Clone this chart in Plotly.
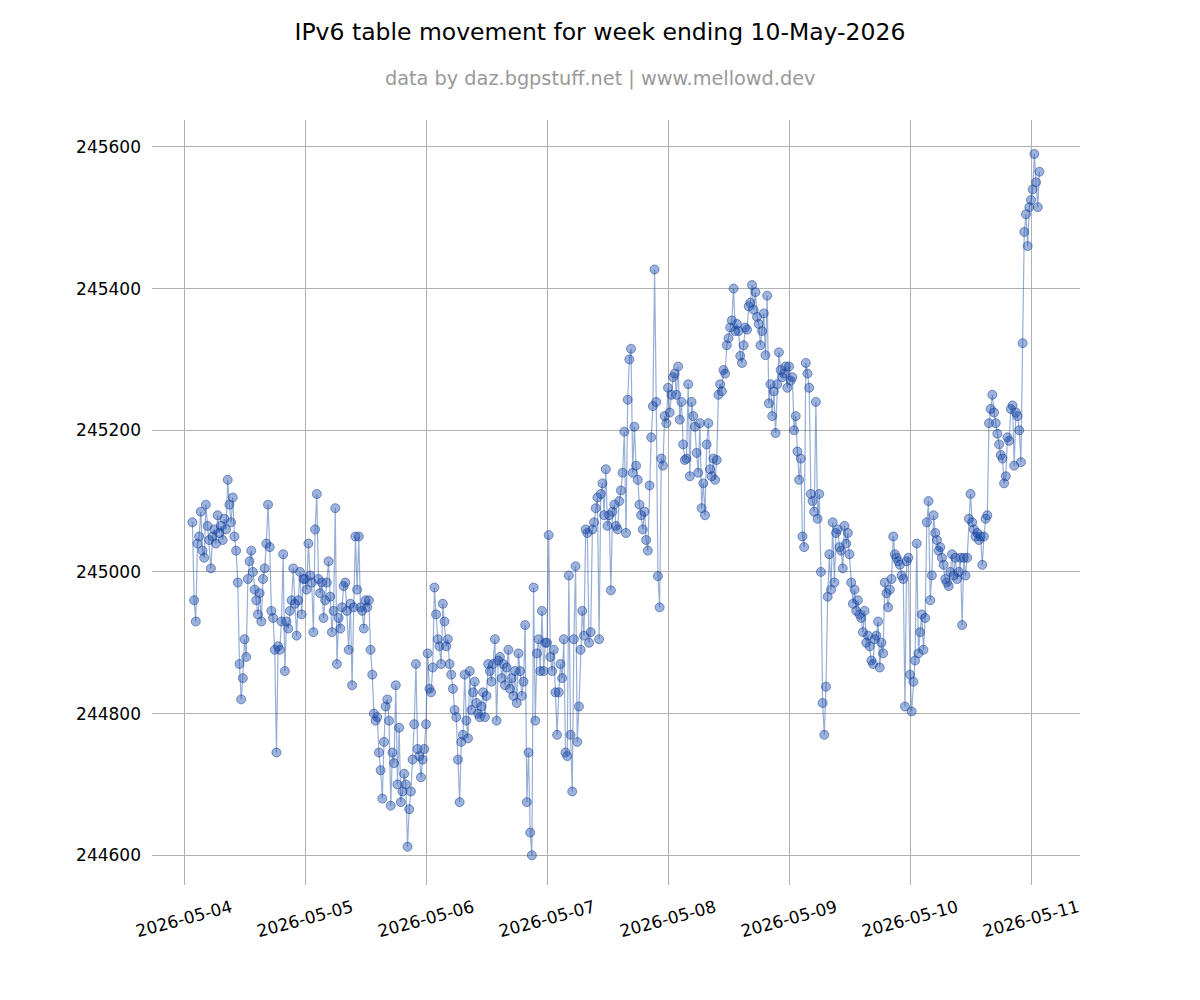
import pandas as pd
import plotly.graph_objects as go

# IPv6 table size samples, one every 20 minutes
day1_start = "2026-05-04 01:40"
day1 = [
    245070, 244960, 244930, 245040, 245050, 245085, 245030,
    245020, 245095, 245065, 245045, 245005, 245050, 245060, 245040, 245080, 245055, 245065, 245045,
    245075, 245060, 245130, 245095, 245070, 245105, 245050, 245030, 244985, 244870, 244820, 244850,
    244905, 244880, 244990, 245015, 245030, 245000, 244975, 244960, 244940, 244970, 244930, 244990,
    245005, 245040, 245095, 245035, 244945, 244935, 244890, 244745, 244895, 244890, 244930, 245025,
    244860, 244930, 244920, 244945, 244960, 245005, 244955, 244910, 244960, 245000, 244940, 244990,
]
day2_start = "2026-05-05 00:00"
day2 = [
    244990, 244975, 245040, 244995, 244985, 244915, 245060, 245110, 244990, 244970, 244985, 244935,
    244960, 244985, 245015, 244965, 244915, 244945, 245090, 244870, 244935, 244920, 244950, 244980,
    244985, 244945, 244890, 244955, 244840, 244950, 245050, 244975, 245050, 244950, 244945, 244920,
    244960, 244950, 244960, 244890, 244855, 244800, 244790, 244795, 244745, 244720, 244680, 244760,
    244810, 244820, 244790, 244670, 244745, 244730, 244840, 244700, 244780, 244675, 244690, 244715,
    244700, 244612, 244665, 244690, 244735, 244785, 244870, 244750, 244740, 244710, 244735, 244750,
]
day3_start = "2026-05-06 00:00"
day3 = [
    244785, 244885, 244835, 244830, 244865, 244978, 244940, 244905, 244895, 244870, 244955, 244930,
    244895, 244905, 244870, 244855, 244835, 244805, 244795, 244735, 244675, 244760, 244770, 244855,
    244790, 244765, 244860, 244805, 244830, 244845, 244815, 244800, 244795, 244810, 244830, 244795,
    244825, 244870, 244860, 244845, 244870, 244905, 244790, 244875, 244880, 244850, 244870, 244840,
    244865, 244890, 244835, 244850, 244825, 244860, 244815, 244885, 244860, 244825, 244845, 244925,
    244675, 244745, 244632, 244600, 244978, 244790, 244885, 244905, 244860, 244945, 244860, 244900,
]
day4_start = "2026-05-07 00:00"
day4 = [
    244900, 245052, 244880, 244860, 244890, 244830, 244770, 244830, 244870, 244850, 244905, 244745,
    244740, 244995, 244770, 244690, 244905, 245008, 244760, 244810, 244890, 244945, 244910, 245060,
    245055, 244900, 244915, 245060, 245070, 245090, 245105, 244905, 245110, 245125, 245080, 245145,
    245065, 245080, 244974, 245085, 245095, 245065, 245060, 245100, 245115, 245140, 245198, 245055,
    245243, 245300, 245315, 245140, 245205, 245150, 245130, 245095, 245080, 245060, 245085, 245045,
    245030, 245122, 245190, 245234, 245427, 245240, 244994, 244950, 245160, 245150, 245220, 245210,
]
day5_start = "2026-05-08 00:00"
day5 = [
    245260, 245225, 245250, 245275, 245280, 245250, 245290, 245215, 245240, 245180, 245158, 245160,
    245265, 245135, 245240, 245220, 245205, 245168, 245140, 245210, 245090, 245125, 245080, 245180,
    245210, 245145, 245135, 245160, 245130, 245158, 245250, 245265, 245255, 245285, 245280, 245320,
    245330, 245345, 245355, 245400, 245340, 245350, 245340, 245305, 245295, 245320, 245345, 245342,
    245375, 245380, 245405, 245370, 245395, 245360, 245350, 245320, 245340, 245365, 245306, 245390,
    245238, 245265, 245220, 245255, 245196, 245265, 245310, 245285, 245275, 245280, 245290, 245260,
]
day6_start = "2026-05-09 00:00"
day6 = [
    245290, 245270, 245275, 245200, 245220, 245170, 245130, 245160, 245050, 245035, 245295, 245280,
    245260, 245110, 245100, 245085, 245240, 245075, 245110, 245000, 244815, 244770, 244838, 244965,
    245025, 244975, 245070, 244985, 245055, 245060, 245035, 245030, 245005, 245065, 245040, 245055,
    245025, 244985, 244955, 244975, 244945, 244960, 244940, 244935, 244915, 244945, 244900, 244910,
    244895, 244875, 244870, 244905, 244910, 244930, 244865, 244900, 244885, 244985, 244970, 244950,
    244975, 244990, 245050, 245025, 245020, 245015, 245010, 244995, 244990, 244810, 245015, 245020,
]
day7_start = "2026-05-10 00:00"
day7 = [
    244855, 244803, 244845, 244875, 245040, 244885, 244915, 244940, 244890, 244935, 245070, 245100,
    244960, 244995, 245080, 245055, 245045, 245030, 245035, 245020, 245010, 244990, 244985, 244980,
    245000, 245025, 244995, 245020, 244990, 245000, 245020, 244925, 245020, 244995, 245020, 245075,
    245110, 245070, 245060, 245050, 245055, 245045, 245050, 245010, 245050, 245075, 245080, 245210,
    245230, 245250, 245225, 245210, 245195, 245180, 245165, 245160, 245125, 245135, 245190, 245185,
    245230, 245235, 245150, 245225, 245220, 245200, 245155, 245323, 245480, 245505, 245460, 245515,
]
day8_start = "2026-05-11 00:00"
day8 = [245525, 245540, 245590, 245550, 245515, 245565]

title_text = "IPv6 table movement for week ending 10-May-2026"
subtitle_text = "data by daz.bgpstuff.net | www.mellowd.dev"
y_ticks = [244600, 244800, 245000, 245200, 245400, 245600]

segments = [(day1_start, day1), (day2_start, day2), (day3_start, day3), (day4_start, day4),
            (day5_start, day5), (day6_start, day6), (day7_start, day7), (day8_start, day8)]
times, values = [], []
for start, vals in segments:
    times.extend(pd.date_range(start=start, periods=len(vals), freq="20min"))
    values.extend(vals)

fig = go.Figure()
fig.add_trace(go.Scatter(
    x=times, y=values, mode="lines+markers",
    line=dict(color="rgba(25,75,165,0.45)", width=1.2),
    marker=dict(size=9, color="rgba(25,75,170,0.42)",
                line=dict(color="rgba(20,60,150,0.50)", width=1)),
    showlegend=False, hoverinfo="x+y",
))

grid = "#b0b0b0"
fig.update_layout(
    width=1192, height=992,
    paper_bgcolor="white", plot_bgcolor="white",
    margin=dict(l=144, r=120, t=112, b=115, autoexpand=False),
    font=dict(family="DejaVu Sans", color="black", size=17),
    title=dict(text=title_text, x=0.4966, xanchor="center", xref="container",
               y=0.9758, yanchor="middle", yref="container",
               font=dict(family="DejaVu Sans", size=23.5, color="black")),
    annotations=[dict(text=subtitle_text, xref="paper", yref="paper", x=0.4828, y=1.0536,
                      xanchor="center", yanchor="middle", showarrow=False,
                      font=dict(family="DejaVu Sans", size=19.3, color="#999999"))],
    xaxis=dict(
        type="date", automargin=False,
        range=["2026-05-03 17:39", "2026-05-11 09:43"],
        tickformat="%Y-%m-%d", dtick=86400000, tick0="2026-05-04",
        tickangle=-15, showgrid=True, gridcolor=grid, gridwidth=1,
        showline=False, zeroline=False, ticks="", ticklen=0,
        ticklabelshift=47, ticklabelstandoff=9,
        tickfont=dict(size=17, family="DejaVu Sans", color="black"),
    ),
    yaxis=dict(
        automargin=False,
        range=[244558, 245638],
        tickmode="array", tickvals=y_ticks, ticktext=[str(v) for v in y_ticks],
        showgrid=True, gridcolor=grid, gridwidth=1,
        showline=False, zeroline=False, ticks="", ticklen=0,
        ticklabelstandoff=10,
        tickfont=dict(size=17, family="DejaVu Sans", color="black"),
    ),
)

fig.write_html("out.html")
